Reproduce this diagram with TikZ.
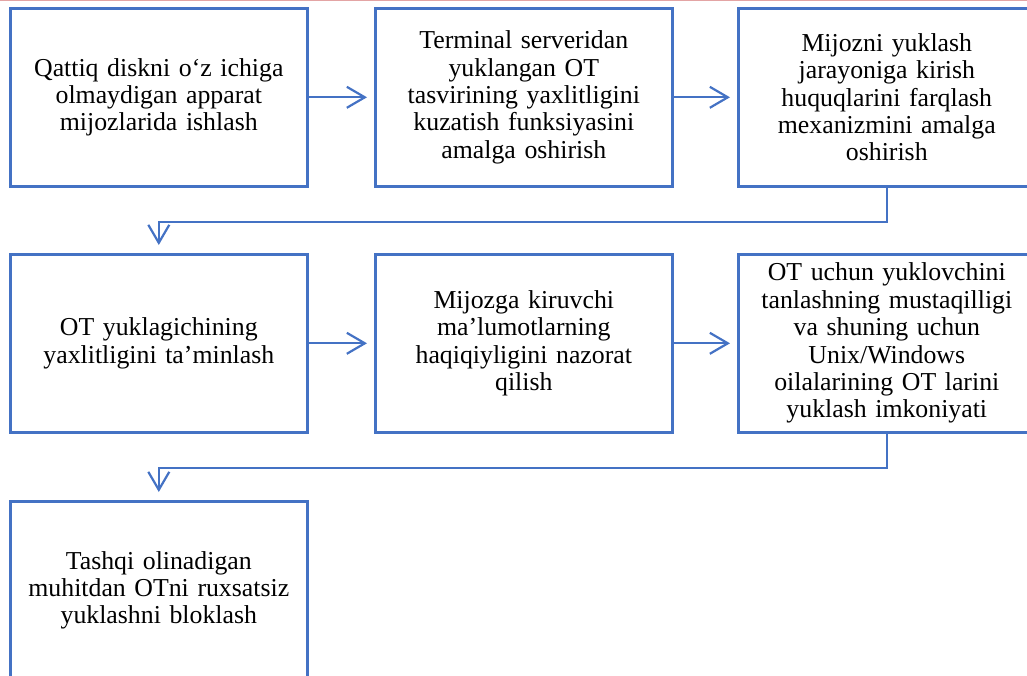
\documentclass[tikz,border=0pt]{standalone}
\usepackage{fontspec}
\setmainfont{Liberation Serif}
\usetikzlibrary{arrows.meta}
\definecolor{boxblue}{HTML}{4472C4}
\definecolor{topred}{HTML}{E3A4A4}
\begin{document}
\begin{tikzpicture}[x=1pt,y=-1pt,
  box/.style={draw=boxblue, line width=2.6pt, anchor=north west,
    minimum width=297pt, minimum height=178pt, inner sep=0pt,
    text width=285pt, align=center,
    font=\fontsize{25.8}{27.4}\selectfont},
  arr/.style={draw=boxblue, line width=2.2pt,
    -{Straight Barb[length=18pt,width=21pt,line width=2.2pt]}}]
\clip (0,0) rectangle (1027,675);
\useasboundingbox (0,0) rectangle (1027,675);
\draw[topred, line width=1.4pt] (0,0.7) -- (1027,0.7);
\node[box] (b1) at (9,7) {Qattiq diskni o‘z ichiga\\olmaydigan apparat\\mijozlarida ishlash};
\node[box] (b2) at (374,7) {Terminal serveridan\\yuklangan OT\\tasvirining yaxlitligini\\kuzatish funksiyasini\\amalga oshirish};
\node[box] (b3) at (737,7) {Mijozni yuklash\\jarayoniga kirish\\huquqlarini farqlash\\mexanizmini amalga\\oshirish};
\node[box] (b4) at (9,253) {OT yuklagichining\\yaxlitligini ta’minlash};
\node[box] (b5) at (374,253) {Mijozga kiruvchi\\ma’lumotlarning\\haqiqiyligini nazorat\\qilish};
\node[box] (b6) at (737,253) {OT uchun yuklovchini\\tanlashning mustaqilligi\\va shuning uchun\\Unix/Windows\\oilalarining OT larini\\yuklash imkoniyati};
\node[box] (b7) at (9,500) {Tashqi olinadigan\\muhitdan OTni ruxsatsiz\\yuklashni bloklash};
\draw[arr] (b1.east) -- ([xshift=-7pt]b2.west);
\draw[arr] (b2.east) -- ([xshift=-7pt]b3.west);
\draw[arr] (b4.east) -- ([xshift=-7pt]b5.west);
\draw[arr] (b5.east) -- ([xshift=-7pt]b6.west);
\draw[arr] (b3.south) -- ++(0,34) -| ([yshift=8pt]b4.north);
\draw[arr] (b6.south) -- ++(0,34) -| ([yshift=8pt]b7.north);
\end{tikzpicture}
\end{document}
